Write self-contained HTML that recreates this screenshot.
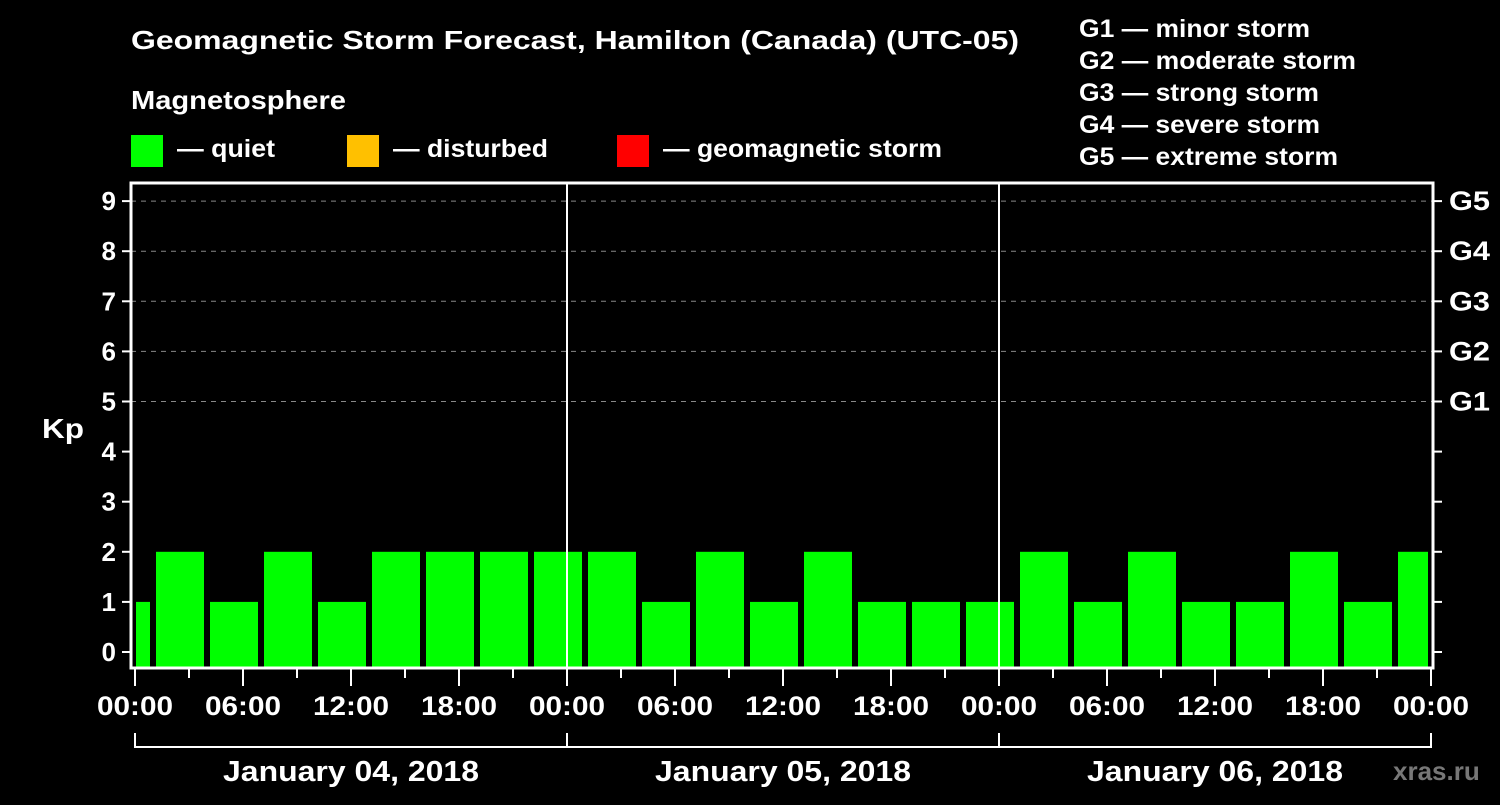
<!DOCTYPE html>
<html><head><meta charset="utf-8"><style>
html,body{margin:0;padding:0;background:#000;}
svg text{font-family:"Liberation Sans",Arial,sans-serif;font-weight:bold;fill:#fff;}
</style></head><body>
<svg id="chart" width="1500" height="800" viewBox="0 0 1500 800" xmlns="http://www.w3.org/2000/svg">
<rect width="1500" height="800" fill="#000"/>
<text x="131" y="49" font-size="26" textLength="888" lengthAdjust="spacingAndGlyphs">Geomagnetic Storm Forecast, Hamilton (Canada) (UTC-05)</text>
<text x="131" y="109" font-size="26" textLength="215" lengthAdjust="spacingAndGlyphs">Magnetosphere</text>
<rect x="131" y="135" width="32" height="32" fill="#00ff00"/>
<text x="177" y="157" font-size="25" textLength="98" lengthAdjust="spacingAndGlyphs">— quiet</text>
<rect x="347" y="135" width="32" height="32" fill="#ffc000"/>
<text x="393" y="157" font-size="25" textLength="155" lengthAdjust="spacingAndGlyphs">— disturbed</text>
<rect x="617" y="135" width="32" height="32" fill="#ff0000"/>
<text x="663" y="157" font-size="25" textLength="279" lengthAdjust="spacingAndGlyphs">— geomagnetic storm</text>
<g font-size="25">
<text x="1079" y="37" textLength="231" lengthAdjust="spacingAndGlyphs">G1 — minor storm</text>
<text x="1079" y="69" textLength="277" lengthAdjust="spacingAndGlyphs">G2 — moderate storm</text>
<text x="1079" y="101" textLength="240" lengthAdjust="spacingAndGlyphs">G3 — strong storm</text>
<text x="1079" y="133" textLength="241" lengthAdjust="spacingAndGlyphs">G4 — severe storm</text>
<text x="1079" y="165" textLength="259" lengthAdjust="spacingAndGlyphs">G5 — extreme storm</text>
</g>
<text x="42" y="438" font-size="28" textLength="42" lengthAdjust="spacingAndGlyphs">Kp</text>
<text x="1393" y="780" font-size="26" fill="#777" style="fill:#777">xras.ru</text>
<g id="grid"></g>
<g id="bars"></g>
<g id="axes"></g>
</svg>
<script>
const kpValues = [1,2,1,2,1,2,2,2,2,2,1,2,1,2,1,1,1,2,1,2,1,1,2,1,2];
const yTicks = [0,1,2,3,4,5,6,7,8,9];
const gLabels = ["G1","G2","G3","G4","G5"];
const xTickLabels = ["00:00","06:00","12:00","18:00","00:00","06:00","12:00","18:00","00:00","06:00","12:00","18:00","00:00"];
const dateLabels = ["January 04, 2018","January 05, 2018","January 06, 2018"];
const firstIntervalHour = -2;

const NS="http://www.w3.org/2000/svg";
const L=131,R=1433,T=183,B=668,X0=135,HPX=18;
const y=v=>652-v*50.1;
const x=h=>X0+h*HPX;
function mk(tag,attrs,parent,txt){const e=document.createElementNS(NS,tag);for(const k in attrs)e.setAttribute(k,attrs[k]);if(txt!==undefined)e.textContent=txt;parent.appendChild(e);return e;}
const grid=document.getElementById('grid'),bars=document.getElementById('bars'),axes=document.getElementById('axes');
yTicks.forEach(v=>{if(v>=5){const l=mk('line',{x1:L,x2:R,y1:y(v),y2:y(v),stroke:'#888','stroke-width':1,'stroke-dasharray':'5,5'},grid);

}});
kpValues.forEach((v,i)=>{const s=firstIntervalHour+i*3;let x1=x(s)+3,x2=x(s+3)-3;x1=Math.max(x1,L+5);x2=Math.min(x2,R-5);
const col=v>=5?'#ff0000':(v>=4?'#ffc000':'#00ff00');
const r=mk('rect',{x:x1,y:y(v),width:x2-x1,height:B-1-y(v),fill:col},bars);

});
[1,2].forEach(d=>{const l=mk('line',{x1:x(d*24),x2:x(d*24),y1:T,y2:B,stroke:'#fff','stroke-width':2},axes);

});
const f=mk('rect',{x:L,y:T,width:R-L,height:B-T,fill:'none',stroke:'#fff','stroke-width':3},axes);


yTicks.forEach(v=>{mk('line',{x1:122,x2:L,y1:y(v),y2:y(v),stroke:'#fff','stroke-width':2},axes);
const t=mk('text',{x:116,y:y(v)+9,'font-size':26,'text-anchor':'end'},axes,String(v));


mk('line',{x1:R,x2:1442,y1:y(v),y2:y(v),stroke:'#fff','stroke-width':2},axes);});
gLabels.forEach((g,i)=>{const t=mk('text',{x:1449,y:y(5+i)+9,'font-size':27,textLength:41,lengthAdjust:'spacingAndGlyphs'},axes,g);

});
for(let h=0;h<=72;h+=3){const major=h%6===0;mk('line',{x1:x(h),x2:x(h),y1:B,y2:major?686:678,stroke:'#fff','stroke-width':2},axes);}
xTickLabels.forEach((lab,i)=>{const t=mk('text',{x:x(i*6),y:715,'font-size':27,'text-anchor':'middle',textLength:76,lengthAdjust:'spacingAndGlyphs'},axes,lab);

});
mk('line',{x1:x(0),x2:x(72),y1:747,y2:747,stroke:'#fff','stroke-width':2},axes);
[0,1,2,3].forEach(d=>mk('line',{x1:x(d*24),x2:x(d*24),y1:733,y2:748,stroke:'#fff','stroke-width':2},axes));
dateLabels.forEach((d,i)=>{const t=mk('text',{x:x(i*24+12),y:781,'font-size':29,'text-anchor':'middle',textLength:256,lengthAdjust:'spacingAndGlyphs'},axes,d);

});
</script>
</body></html>
